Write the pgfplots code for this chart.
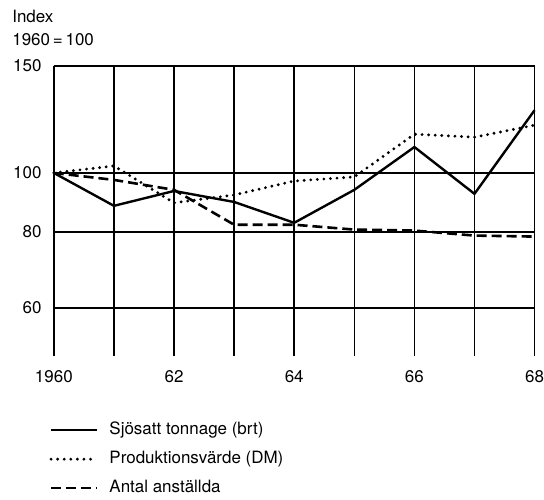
\documentclass[border=0pt]{standalone}
\usepackage{fontspec}
\setmainfont{TeX Gyre Heros}
\setsansfont{TeX Gyre Heros}
\usepackage{pgfplots}
\pgfplotsset{compat=1.18}
\begin{document}
\begin{tikzpicture}
\begin{axis}[
  scale only axis,
  width=241pt, height=145.5pt,
  xmin=1960, xmax=1968,
  ymode=log, ymin=50, ymax=150,
  xtick={1960,1961,...,1968},
  xticklabels={1960,,62,,64,,66,,68},
  ytick={60,80,100,150},
  yticklabels={60,80,100,150},
  yminorticks=false,
  major tick length=0pt,
  axis line style={draw=none},
  grid=major,
  major grid style={black, line width=0.75pt},
  /pgf/number format/assume math mode=true,
  tick label style={font=\fontsize{8.5}{10}\selectfont, inner sep=0pt},
  yticklabel style={xshift=-6pt},
  xticklabel style={yshift=-7pt, anchor=north},
  clip=false,
  legend style={at={(rel axis cs:-0.01,-0.225)}, anchor=north west, draw=none, fill=none,
    inner sep=0pt, row sep=6pt, column sep=5.5pt,
    font=\fontsize{8.5}{10}\selectfont,
    nodes={inner sep=0pt, text height=6.5pt, text depth=2pt}},
  legend cell align=left,
  legend image code/.code={\draw[#1] (0pt,0pt) -- (23pt,0pt);},
]
\addplot[black, line width=1.2pt, line join=round] coordinates {
 (1960,100) (1961,88.3) (1962,93.4) (1963,89.6) (1964,82.8) (1965,93.8) (1966,110.3) (1967,92.4) (1968,126.8)};
\addlegendentry{Sjösatt tonnage (brt)}
\addplot[black, line width=1.6pt, line cap=round, dash pattern=on 0pt off 3.3pt] coordinates {
 (1960,100) (1961,102.7) (1962,89.3) (1963,92.0) (1964,97.0) (1965,98.5) (1966,115.8) (1967,114.5) (1968,119.8)};
\addlegendentry{Produktionsvärde (DM)}
\addplot[black, line width=1.3pt, dash pattern=on 5pt off 2.5pt] coordinates {
 (1960,100) (1961,97.4) (1962,93.8) (1963,82.2) (1964,82.2) (1965,80.7) (1966,80.4) (1967,78.9) (1968,78.6)};
\addlegendentry{Antal anställda}
\node[anchor=south west, inner sep=0pt, align=left, font=\fontsize{8.5}{11.5}\selectfont]
  at (rel axis cs:0,1) [xshift=-21pt, yshift=10pt] {Index\\1960\,=\,100};
\path[draw=none] (rel axis cs:-0.112,-0.4948) rectangle (rel axis cs:1.0166,1.2268);
\end{axis}
\end{tikzpicture}
\end{document}
